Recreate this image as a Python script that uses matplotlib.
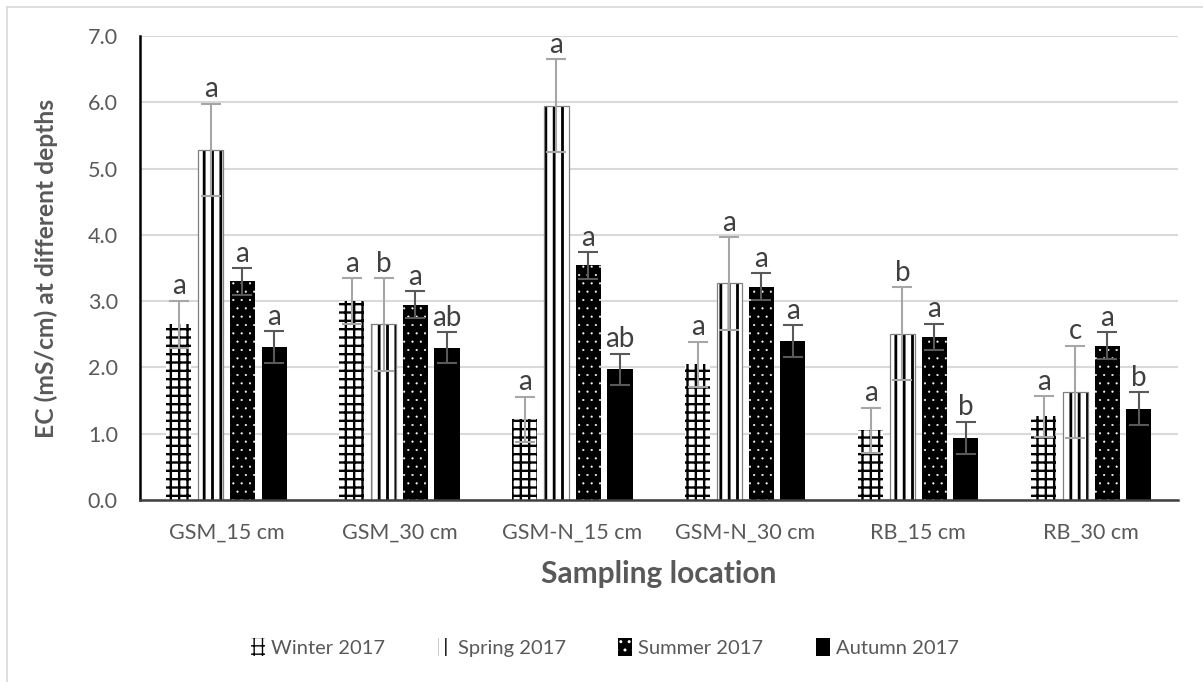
import matplotlib
matplotlib.use("Agg")
import matplotlib.pyplot as plt
import numpy as np
from matplotlib.patches import Patch
from matplotlib.lines import Line2D

plt.rcParams['font.family'] = ['Lato', 'DejaVu Sans']

categories = ["GSM_15 cm", "GSM_30 cm", "GSM-N_15 cm", "GSM-N_30 cm", "RB_15 cm", "RB_30 cm"]
series_names = ["Winter 2017", "Spring 2017", "Summer 2017", "Autumn 2017"]

winter = [2.65, 3.00, 1.22, 2.05, 1.05, 1.26]
spring = [5.28, 2.65, 5.95, 3.27, 2.51, 1.63]
summer = [3.30, 2.95, 3.54, 3.22, 2.46, 2.33]
autumn = [2.31, 2.30, 1.97, 2.40, 0.94, 1.38]

winter_err = [0.36, 0.35, 0.34, 0.34, 0.34, 0.31]
spring_err = [0.70, 0.70, 0.70, 0.70, 0.70, 0.70]
summer_err = [0.20, 0.20, 0.20, 0.20, 0.20, 0.20]
autumn_err = [0.24, 0.23, 0.24, 0.24, 0.24, 0.25]

winter_letters = ["a", "a", "a", "a", "a", "a"]
spring_letters = ["a", "b", "a", "a", "b", "c"]
summer_letters = ["a", "a", "a", "a", "a", "a"]
autumn_letters = ["a", "ab", "ab", "a", "b", "b"]

values = [winter, spring, summer, autumn]
errors = [winter_err, spring_err, summer_err, autumn_err]
letters = [winter_letters, spring_letters, summer_letters, autumn_letters]

face = ['white', 'white', 'black', 'black']
hcol = ['black', 'black', 'white', 'black']
hatches = ['++', '||', '..', None]
hlw = [1.7, 2.0, 0.3, 1.0]
errcol = ['#a6a6a6', '#a6a6a6', '#595959', '#595959']

fig = plt.figure(figsize=(12.03, 6.82), dpi=100)
ax = fig.add_axes([0.1164, 0.2669, 0.979 - 0.1164, 0.947 - 0.2669])

x = np.arange(len(categories))
width = 0.145
offsets = [-0.275, -0.092, 0.092, 0.275]


def set_hlw(artist, lw):
    if hasattr(artist, 'set_hatch_linewidth'):
        artist.set_hatch_linewidth(lw)


handles = []
for i in range(4):
    pos = x + offsets[i]
    with plt.rc_context({'hatch.linewidth': hlw[i]}):
        bars = ax.bar(pos, values[i], width, color=face[i], edgecolor=hcol[i], linewidth=0,
                      hatch=hatches[i], zorder=2)
        for b in bars:
            set_hlw(b, hlw[i])
        h = Patch(facecolor=face[i], edgecolor=hcol[i], linewidth=0,
                  hatch=hatches[i], label=series_names[i])
        set_hlw(h, hlw[i])
    handles.append(h)
    if i == 1:
        ax.bar(pos, values[i], width, fill=False, edgecolor='#808080', linewidth=0.9, zorder=2.1)
    ax.errorbar(pos, values[i], yerr=errors[i], fmt='none', ecolor=errcol[i],
                elinewidth=1.5, capsize=7, capthick=1.5, zorder=3)
    for p, v, e, t in zip(pos, values[i], errors[i], letters[i]):
        ax.annotate(t, (p, v + e), xytext=(0, 1), textcoords='offset points',
                    ha='center', va='bottom', fontsize=20, color='#404040', zorder=4)

ax.set_xlim(-0.5, 5.5)
ax.set_ylim(0, 7.0)
ax.set_yticks(np.arange(0, 7.01, 1.0))
ax.set_yticklabels([f"{v:.1f}" for v in np.arange(0, 7.01, 1.0)])
ax.set_xticks(x)
ax.set_xticklabels(categories)
ax.tick_params(axis='both', length=0, labelsize=15.5, labelcolor='#595959')
ax.tick_params(axis='x', pad=16)
ax.tick_params(axis='y', pad=16)
ax.yaxis.grid(True, color='#d9d9d9', linewidth=1.5, zorder=0)
ax.set_axisbelow(True)
for s in ['top', 'right']:
    ax.spines[s].set_visible(False)
ax.spines['left'].set_color('black')
ax.spines['left'].set_linewidth(1.8)
ax.spines['bottom'].set_color('#404040')
ax.spines['bottom'].set_linewidth(1.8)

ax.set_xlabel("Sampling location", fontsize=21.5, fontweight='bold', color='#595959', labelpad=13)
ax.set_ylabel("EC (mS/cm) at different depths", fontsize=17.7, fontweight='bold', color='#595959')
ax.yaxis.set_label_coords(-0.079, 0.5)

fig.legend(handles=handles, loc='center', bbox_to_anchor=(0.503, 0.05), ncol=4, frameon=False,
           fontsize=14.5, labelcolor='#595959', handlelength=0.7, handleheight=1.0,
           handletextpad=0.3, columnspacing=2.6)

fig.add_artist(Line2D([7/1203, 1], [1 - 7/682, 1 - 7/682], color='#d9d9d9', linewidth=1.2))
fig.add_artist(Line2D([7/1203, 7/1203], [0, 1 - 7/682], color='#d9d9d9', linewidth=1.2))

fig.savefig("out.png", dpi=100)
